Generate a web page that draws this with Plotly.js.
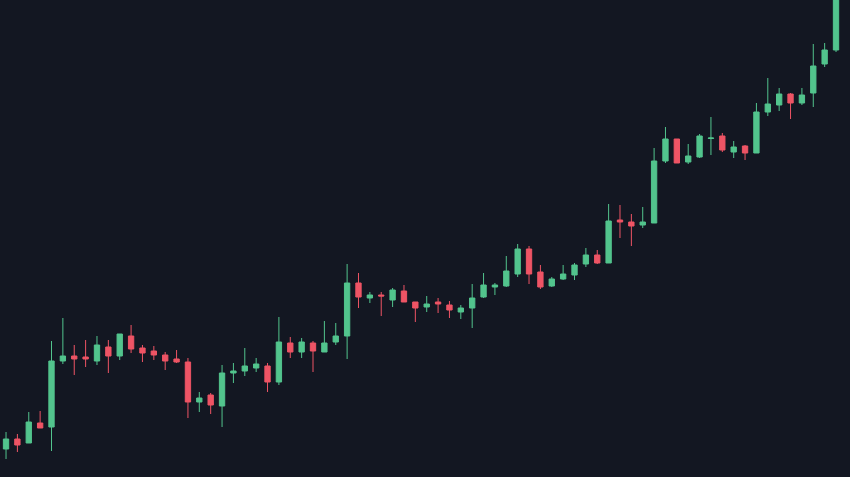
<!DOCTYPE html>
<html>
<head>
<meta charset="utf-8">
<script src="https://cdn.plot.ly/plotly-3.0.1.min.js"></script>
<style>
html,body{margin:0;padding:0;background:#131722;}
#chart{width:850px;height:477px;}
</style>
</head>
<body>
<div id="chart"></div>
<script>
// Candle index (periods)
const periods = Array.from({length: 74}, (_, i) => i);
const openVals = [28,38,34,54,50,116,121,120,116,130,121,141,129,126,122,118,115,75,82,71,
  104,106,109,111,95,134,125,134,125,135,141,194,179,182,177,186,175,170,175,172,
  165,169,180,190,191,203,228,205,191,198,202,213,222,214,257,255,252,254,316,338,
  315,320,338.5,341,325,331,324,365,372,383,374,384,413,427];
const highVals = [45,43,65,66,136,159,132,137,141,137,143,152,132,131,125,127,119,85,84,112,
  114,129,119,114,160,140,139,136,156,154,213,204,185,185,189,192,175,181,179,176,
  172,193,204,194,221,233,231,212,200,212,214,229,227,273,272,263,270,329,350,338,
  333,343,360,344,336,332,374,399,389,384,389,433,434,497];
const lowVals = [18,25,34,49,26,113,102,110,112,104,117,124,115,117,107,114,59,65,63,50,
  94,101,105,85,92,119,119,105,125,132,118,169,174,161,170,175,155,165,164,159,
  158,149,179,182,190,200,193,188,190,197,197,210,213,214,239,231,249,254,314,314,
  313,319,322,325,319,317,324,361,366,358,372,370,410,425];
const closeVals = [38,32,55,49,116,121,118,118,132,121,143,128,124,122,116,115,75,79,72,104,
  106,111,113,95,135,125,135,126,134,141,194,180,182,181,187,175,169,173,173,167,
  169,179,192,192,206,228,203,190,198,203,212,222,214,256,255,251,255,316,338,314,
  321,341,339,327,330,324,365,373,383,374,382,411,427,487];

const trace = {
  type: 'candlestick',
  x: periods,
  open: openVals,
  high: highVals,
  low: lowVals,
  close: closeVals,
  increasing: {line: {color: '#52c48d', width: 1}, fillcolor: '#52c48d'},
  decreasing: {line: {color: '#ee5465', width: 1}, fillcolor: '#ee5465'},
  whiskerwidth: 0,
  hoverinfo: 'none'
};

const layout = {
  width: 850,
  height: 477,
  margin: {l: 0, r: 0, t: 0, b: 0, pad: 0},
  paper_bgcolor: '#131722',
  plot_bgcolor: '#131722',
  showlegend: false,
  boxgap: 0.33,
  xaxis: {
    range: [-0.53, 74.23],
    visible: false,
    showgrid: false,
    zeroline: false,
    rangeslider: {visible: false},
    fixedrange: true
  },
  yaxis: {
    range: [0, 477],
    visible: false,
    showgrid: false,
    zeroline: false,
    fixedrange: true
  }
};

Plotly.newPlot('chart', [trace], layout, {displayModeBar: false, staticPlot: true});
</script>
</body>
</html>
